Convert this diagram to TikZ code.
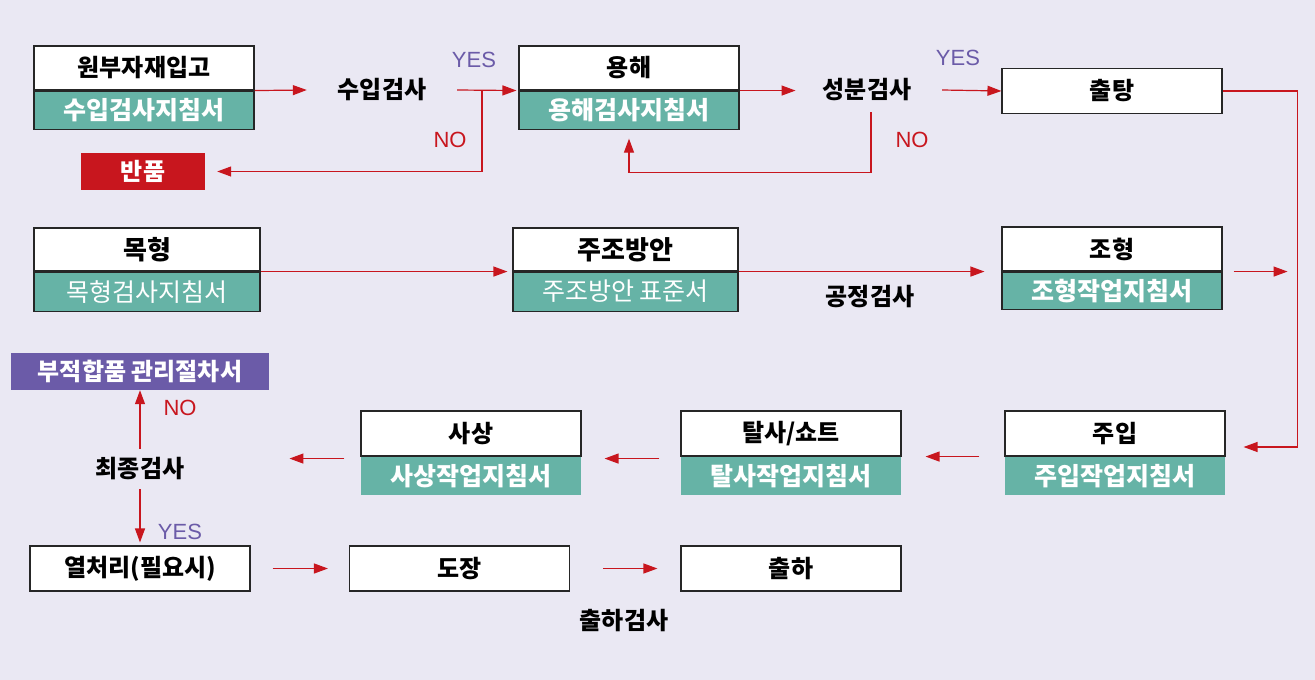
\documentclass[tikz,border=0pt]{standalone}
\usepackage{fontspec}
\setmainfont{Noto Sans CJK KR}
\newfontfamily\latinfont{Liberation Sans}
\usetikzlibrary{arrows.meta}

\definecolor{bgcol}{HTML}{EAE8F3}
\definecolor{docteal}{HTML}{66B3A6}
\definecolor{flowred}{HTML}{C8161E}
\definecolor{okpurple}{HTML}{6B5BA8}

\tikzset{
  head/.style={draw=black!85, line width=1.1pt, fill=white, minimum width=220pt, minimum height=44pt,
    inner sep=0pt, font=\fontsize{24}{26}\selectfont\bfseries},
  doc/.style={draw=black!85, line width=1.1pt, fill=docteal, text=white, minimum width=220pt,
    minimum height=38pt, inner sep=0pt, anchor=north, font=\fontsize{25}{27}\selectfont\bfseries},
  plaindoc/.style={doc, draw=none},
  tagbox/.style={minimum height=37pt, inner sep=0pt, text=white, font=\fontsize{24}{26}\selectfont\bfseries},
  check/.style={minimum width=150pt, minimum height=44pt, inner sep=0pt, font=\fontsize{24}{26}\selectfont\bfseries},
  flow/.style={draw=flowred, line width=1.2pt, -{Triangle[length=14pt,width=10pt]}},
  yes/.style={text=okpurple, font=\latinfont\fontsize{22}{24}\selectfont},
  no/.style={text=flowred, font=\latinfont\fontsize{22}{24}\selectfont},
}

\begin{document}
\begin{tikzpicture}[x=1pt, y=-1pt]
 \fill[bgcol] (0,0) rectangle (1315,680);
 \useasboundingbox (0,0) rectangle (1315,680);

 % first row
 \node[head] (ipgo) at (144,68) {원부자재입고};
 \node[doc] (ipgo-doc) at (ipgo.south) {수입검사지침서};
 \node[check] (suip) at (382,90) {수입검사};
 \node[head] (yonghae) at (629,68) {용해};
 \node[doc] (yonghae-doc) at (yonghae.south) {용해검사지침서};
 \node[check] (sungbun) at (867,90) {성분검사};
 \node[head, minimum height=45pt] (chultang) at (1112,91) {출탕};
 \node[tagbox, fill=flowred, minimum width=124pt] (banpum) at (143,171.5) {반품};

 \node[yes] (yes1) at (474,60) {YES};
 \node[no] (no1) at (450,140) {NO};
 \node[yes] (yes2) at (958,58) {YES};
 \node[no] (no2) at (912,140) {NO};

 % second row
 \node[head, minimum width=226pt, minimum height=43pt] (mokhyung) at (147,249.5) {\fontsize{26}{28}\selectfont 목형};
 \node[doc, minimum width=226pt, minimum height=39pt] (mokhyung-doc) at (mokhyung.south) {\mdseries 목형검사지침서};
 \node[head, minimum width=225pt, minimum height=43pt] (jujo) at (625.5,249.5) {\fontsize{26}{28}\selectfont 주조방안};
 \node[doc, minimum width=225pt, minimum height=39pt] (jujo-doc) at (jujo.south) {\mdseries 주조방안 표준서};
 \node[head] (johyung) at (1112,249) {조형};
 \node[doc, minimum height=37pt] (johyung-doc) at (johyung.south) {조형작업지침서};
 \node[check] (gongjung) at (870,297) {공정검사};

 % third row
 \node[head, minimum height=45pt] (juip) at (1115,433.5) {주입};
 \node[plaindoc] (juip-doc) at (juip.south) {주입작업지침서};
 \node[head, minimum height=45pt] (talsa) at (791,433.5) {탈사/쇼트};
 \node[plaindoc] (talsa-doc) at (talsa.south) {탈사작업지침서};
 \node[head, minimum height=45pt] (sasang) at (471,433.5) {사상};
 \node[plaindoc] (sasang-doc) at (sasang.south) {사상작업지침서};
 \node[check, minimum width=110pt, minimum height=40pt] (choejong) at (140,469) {최종검사};
 \node[tagbox, fill=okpurple, minimum width=258pt] (bujeok) at (140,371.5) {부적합품 관리절차서};
 \node[no] (no3) at (180,408) {NO};
 \node[yes] (yes3) at (180,532) {YES};

 % last row
 \node[head, minimum height=45pt] (yeol) at (140,568.5) {열처리(필요시)};
 \node[head, minimum height=45pt] (dojang) at (459.5,568.5) {도장};
 \node[head, minimum height=45pt] (chulha) at (791,568.5) {출하};
 \node[check] (chulhagumsa) at (624,621) {출하검사};

 % connectors
 \coordinate (split1) at (482,90);
 \draw[flow] (ipgo.south east) -- (suip.west);
 \draw[flow, shorten >=2pt] (suip.east) -- (yonghae.south west);
 \draw[flow, shorten >=12pt] (split1) |- (banpum.east);
 \draw[flow] (yonghae.south east) -- ++(56,0);
 \draw[flow] (sungbun.east) -- (chultang.west);
 \draw[flow, shorten >=9pt] ([xshift=4pt]sungbun.south) -- ++(0,60) -| (yonghae-doc.south);
 \draw[flow, shorten >=18pt] (chultang.east) -- ++(75,0) |- ([yshift=-13.5pt]juip.east);

 \draw[flow, shorten >=5pt] (mokhyung.south east) -- (jujo.south west);
 \draw[flow, shorten >=17pt] (jujo.south east) -- (johyung.south west);
 \draw[flow, shorten <=11pt] (johyung.south east) -- ++(65,0);

 \draw[flow, shorten <=25pt, shorten >=24pt] (juip.south west) -- (talsa.south east);
 \draw[flow, shorten <=21pt, shorten >=23pt] ([yshift=-2pt]talsa.south west) -- ([yshift=-2pt]sasang.south east);
 \draw[flow, shorten <=16pt] ([yshift=-2pt]sasang.south west) -- ++(-71,0);
 \draw[flow] (choejong) -- (bujeok);
 \draw[flow, shorten >=3pt] (choejong) -- (yeol);

 \draw[flow, shorten <=22pt, shorten >=21pt] (yeol) -- (dojang);
 \draw[flow, shorten <=33pt, shorten >=23pt] (dojang) -- (chulha);
\end{tikzpicture}
\end{document}
